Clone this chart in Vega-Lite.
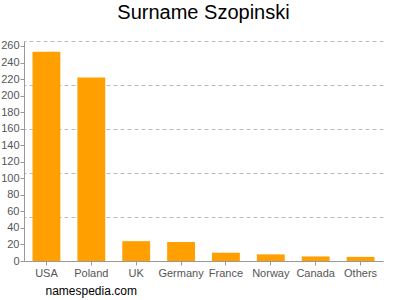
{
  "$schema": "https://vega.github.io/schema/vega-lite/v6.json",
  "autosize": "none",
  "width": 359,
  "height": 220,
  "padding": {"left": 24, "top": 41, "right": 17, "bottom": 39},
  "background": "white",
  "config": {
    "font": "Liberation Sans",
    "view": {"stroke": null}
  },
  "title": {
    "text": "Surname Szopinski",
    "fontSize": 20,
    "fontWeight": "normal",
    "color": "#000000",
    "anchor": "middle",
    "baseline": "alphabetic",
    "offset": 0.5
  },
  "data": {
    "values": [
      {"country": "USA", "count": 253},
      {"country": "Poland", "count": 222},
      {"country": "UK", "count": 24},
      {"country": "Germany", "count": 23},
      {"country": "France", "count": 10},
      {"country": "Norway", "count": 8},
      {"country": "Canada", "count": 5.5},
      {"country": "Others", "count": 5}
    ]
  },
  "encoding": {
    "x": {
      "field": "country",
      "type": "nominal",
      "sort": null,
      "scale": {"paddingInner": 0.38, "paddingOuter": 0.19},
      "axis": {
        "title": "namespedia.com",
        "titleFontSize": 12,
        "titleFontWeight": "normal",
        "titleColor": "#000000",
        "titleAnchor": "start",
        "titleAlign": "left",
        "titleBaseline": "alphabetic",
        "titleX": 21,
        "titleY": 33,
        "labelAngle": 0,
        "labelFontSize": 11,
        "labelColor": "#555555",
        "labelPadding": 2,
        "tickSize": 4,
        "tickColor": "#999999",
        "domainColor": "#999999",
        "grid": false
      }
    }
  },
  "layer": [
    {
      "mark": {"type": "bar", "opacity": 0},
      "encoding": {
        "y": {
          "field": "count",
          "type": "quantitative",
          "scale": {"domain": [0, 266], "nice": false},
          "axis": {
            "orient": "right",
            "title": null,
            "values": [53.2, 106.4, 159.6, 212.8, 266],
            "labels": false,
            "ticks": false,
            "domain": false,
            "grid": true,
            "gridDash": [4, 3],
            "gridColor": "#bbbbbb",
            "gridWidth": 1
          }
        }
      }
    },
    {
      "mark": {"type": "bar", "color": "#FFA000"},
      "encoding": {
        "y": {
          "field": "count",
          "type": "quantitative",
          "scale": {"domain": [0, 266], "nice": false},
          "axis": {
            "orient": "left",
            "title": null,
            "values": [0, 20, 40, 60, 80, 100, 120, 140, 160, 180, 200, 220, 240, 260],
            "grid": false,
            "labelFontSize": 11,
            "labelColor": "#555555",
            "labelPadding": 1,
            "tickSize": 4,
            "tickColor": "#999999",
            "domainColor": "#999999"
          }
        }
      }
    }
  ],
  "resolve": {"axis": {"y": "independent"}}
}
